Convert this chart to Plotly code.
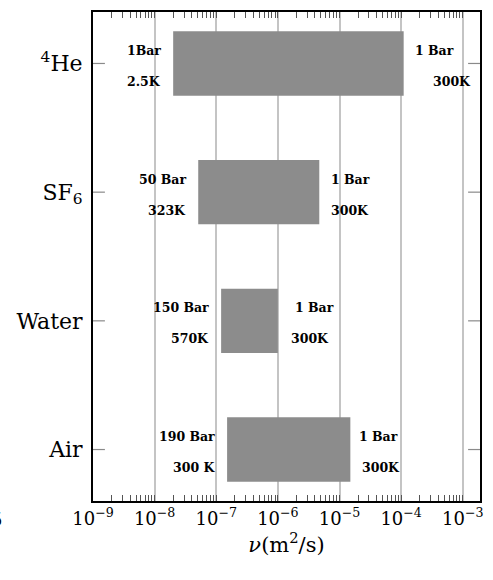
import plotly.graph_objects as go
import math

# Data (top to bottom as displayed)
fluids = ["<sup>4</sup>He", "SF<sub>6</sub>", "Water", "Air"]
nu_low = [2.0e-8, 5.1e-8, 1.2e-7, 1.5e-7]
nu_high = [1.1e-4, 4.7e-6, 1.0e-6, 1.5e-5]
left_top = ["1Bar", "50 Bar", "150 Bar", "190 Bar"]
left_bottom = ["2.5K", "323K", "570K", "300 K"]
right_top = ["1 Bar", "1 Bar", "1 Bar", "1 Bar"]
right_bottom = ["300K", "300K", "300K", "300K"]
tick_exps = [-9, -8, -7, -6, -5, -4, -3]

n = len(fluids)
ypos = [n - 1 - i for i in range(n)]
xrange_log = [-9, -2.72]

fig = go.Figure()
fig.add_trace(go.Bar(
    y=ypos,
    base=nu_low,
    x=[h - l for h, l in zip(nu_high, nu_low)],
    orientation="h",
    width=0.5,
    marker=dict(color="#8c8c8c", line=dict(width=0)),
    showlegend=False,
    hoverinfo="skip",
))
# invisible helper trace for the top (mirrored) axis
fig.add_trace(go.Scatter(x=[nu_low[0]], y=[ypos[0]], xaxis="x2", mode="markers",
                         marker=dict(opacity=0), showlegend=False, hoverinfo="skip"))

lab_font = dict(family="DejaVu Serif", size=12.5, color="black")
right_bottom_shift = [27, 10, 11, 10]
right_top_shift = [9, 10, 15, 7]
anns = []
for i in range(n):
    y = ypos[i]
    xl = math.log10(nu_low[i])
    xh = math.log10(nu_high[i])
    anns.append(dict(x=xl, y=y, xref="x", yref="y", text="<b>%s</b>" % left_top[i],
                     showarrow=False, xanchor="right", yanchor="middle",
                     xshift=-10, yshift=13, font=lab_font))
    anns.append(dict(x=xl, y=y, xref="x", yref="y", text="<b>%s</b>" % left_bottom[i],
                     showarrow=False, xanchor="right", yanchor="middle",
                     xshift=-10, yshift=-18, font=lab_font))
    anns.append(dict(x=xh, y=y, xref="x", yref="y", text="<b>%s</b>" % right_top[i],
                     showarrow=False, xanchor="left", yanchor="middle",
                     xshift=right_top_shift[i], yshift=13, font=lab_font))
    anns.append(dict(x=xh, y=y, xref="x", yref="y", text="<b>%s</b>" % right_bottom[i],
                     showarrow=False, xanchor="left", yanchor="middle",
                     xshift=right_bottom_shift[i], yshift=-18, font=lab_font))

# clipped stray label at far left
anns.append(dict(x=-0.2308, y=-0.037, xref="paper", yref="paper", text="5",
                 showarrow=False, xanchor="right", yanchor="middle",
                 font=dict(family="DejaVu Serif", size=18, color="black")))

# short y ticks on both sides (inside the frame)
tick_frac = 12 / 390
shapes = []
for y in ypos:
    for x0, x1 in [(0, tick_frac), (1 - tick_frac, 1)]:
        shapes.append(dict(type="line", xref="x domain", yref="y",
                           x0=x0, x1=x1, y0=y, y1=y,
                           line=dict(color="#8a8a8a", width=1.2), layer="above"))

minor_ticks = dict(ticks="inside", ticklen=6, tickcolor="#555555", tickwidth=1,
                   dtick="D1", showgrid=False)

fig.update_layout(
    width=493, height=580,
    margin=dict(l=93, r=10, t=11, b=79),
    plot_bgcolor="white", paper_bgcolor="white",
    annotations=anns,
    shapes=shapes,
    font=dict(family="DejaVu Serif", color="black"),
    xaxis=dict(
        type="log",
        range=xrange_log,
        tickvals=[10 ** e for e in tick_exps],
        ticktext=["10<sup>\u2212%d</sup>" % (-e) for e in tick_exps],
        tickfont=dict(family="DejaVu Serif", size=18, color="black"),
        showgrid=True, gridcolor="#c4c4c4", gridwidth=1.5,
        ticks="inside", ticklen=0,
        minor=minor_ticks,
        showline=True, linecolor="black", linewidth=2, mirror=True,
        zeroline=False,
        title=dict(text="<i>\u03bd</i>(m<sup>2</sup>/s)",
                   font=dict(family="DejaVu Serif", size=21, color="black"),
                   standoff=10),
    ),
    xaxis2=dict(
        type="log",
        range=xrange_log,
        overlaying="x", side="top", anchor="y",
        showticklabels=False, showgrid=False, zeroline=False,
        tickvals=[10 ** e for e in tick_exps],
        ticks="inside", ticklen=0,
        minor=minor_ticks,
        showline=False,
    ),
    yaxis=dict(
        range=[-0.4, 3.4],
        tickvals=ypos,
        ticktext=fluids,
        tickfont=dict(family="DejaVu Serif", size=22, color="black"),
        ticks="",
        showgrid=False, zeroline=False,
        showline=True, linecolor="black", linewidth=2, mirror=True,
        ticklabelstandoff=4,
    ),
)

fig.write_html("out.html", config={"displayModeBar": False},
               post_script="document.body.style.margin='0';document.body.style.overflow='hidden';")
